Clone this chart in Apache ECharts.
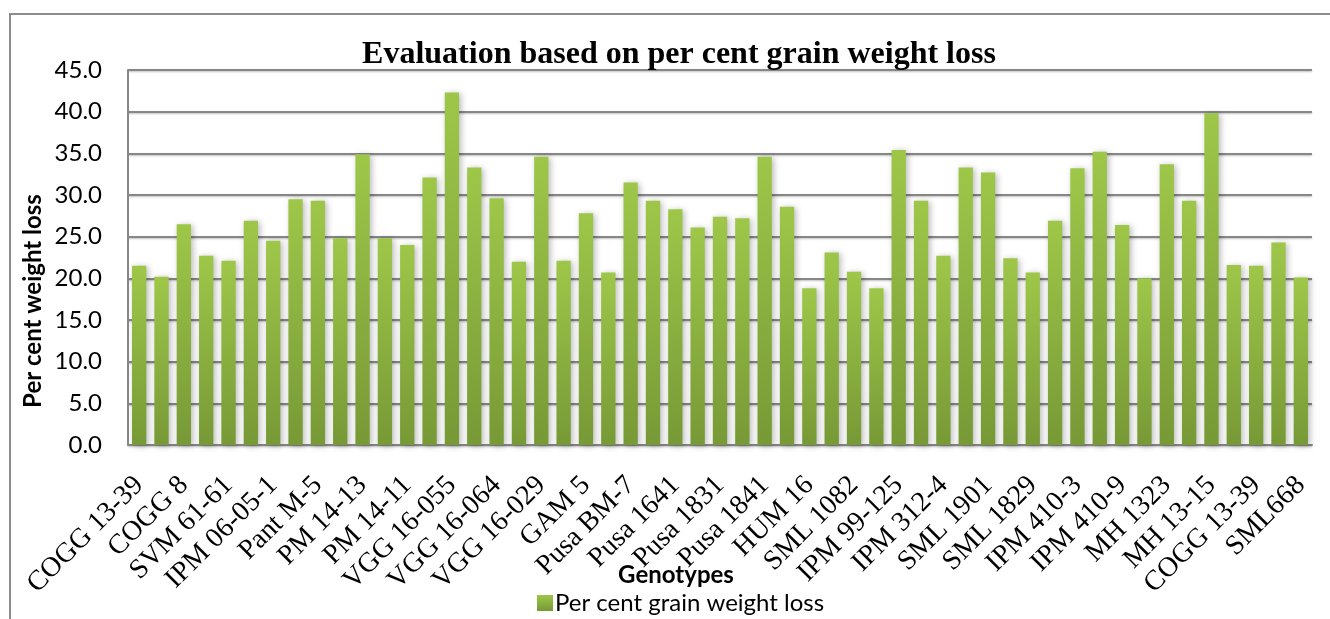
<!DOCTYPE html>
<html>
<head>
<meta charset="utf-8">
<script src="https://cdn.jsdelivr.net/npm/echarts@6/dist/echarts.min.js"></script>
<style>
html,body{margin:0;padding:0;background:#fff;}
#chart{width:1330px;height:619px;}
</style>
</head>
<body>
<div id="chart"></div>
<script>
// Labelled genotypes (every other bar carries a label in the original)
const genotypeLabels = ['COGG 13-39','COGG 8','SVM 61-61','IPM 06-05-1','Pant M-5','PM 14-13','PM 14-11','VGG 16-055','VGG 16-064','VGG 16-029','GAM 5','Pusa BM-7','Pusa 1641','Pusa 1831','Pusa 1841','HUM 16','SML 1082','IPM 99-125','IPM 312-4','SML 1901','SML 1829','IPM 410-3','IPM 410-9','MH 1323','MH 13-15','COGG 13-39','SML668'];
// Per cent grain weight loss for each of the 53 bars
const weightLoss = [21.5,20.2,26.5,22.7,22.1,26.9,24.5,29.5,29.3,24.8,34.9,24.8,24.0,32.1,42.3,33.3,29.6,22.0,34.6,22.1,27.8,20.7,31.5,29.3,28.3,26.1,27.4,27.2,34.6,28.6,18.8,23.1,20.8,18.8,35.4,29.3,22.7,33.3,32.7,22.4,20.7,26.9,33.2,35.2,26.4,20.0,33.7,29.3,39.8,21.6,21.5,24.3,20.1];
const yTicks = [0,5,10,15,20,25,30,35,40,45];
const titleText = 'Evaluation based on per cent grain weight loss';
const seriesName = 'Per cent grain weight loss';
const yName = 'Per cent weight loss';
const xName = 'Genotypes';

const categories = weightLoss.map((v, i) => (i % 2 === 0 ? genotypeLabels[i / 2] : ''));

const chart = echarts.init(document.getElementById('chart'), null, {renderer: 'canvas'});
const sans = 'Lato';
const serif = '"Liberation Serif", "Times New Roman", serif';
const gridColor = '#878787';

chart.setOption({
  animation: false,
  backgroundColor: '#fff',
  title: {
    text: titleText,
    left: 674,
    top: 34,
    textAlign: 'center',
    textStyle: {fontFamily: serif, fontWeight: 'bold', fontSize: 32, color: '#000'}
  },
  legend: {
    left: 532,
    top: 586,
    icon: 'rect',
    itemWidth: 16,
    itemHeight: 16,
    itemGap: 4,
    textStyle: {fontFamily: sans, fontSize: 24, color: '#000', padding: [0, 0, 0, -3]},
    data: [seriesName]
  },
  grid: {left: 128, right: 18, top: 70, bottom: 174, containLabel: false},
  xAxis: {
    type: 'category',
    data: categories,
    axisLine: {show: true, lineStyle: {color: gridColor, width: 2}},
    axisTick: {show: false},
    axisLabel: {
      interval: 0,
      rotate: 45,
      margin: 36,
      fontFamily: serif,
      fontSize: 28,
      color: '#000'
    }
  },
  yAxis: {
    type: 'value',
    min: yTicks[0],
    max: yTicks[yTicks.length - 1],
    interval: yTicks[1] - yTicks[0],
    axisLine: {show: true, lineStyle: {color: gridColor, width: 2}},
    axisTick: {show: false},
    axisLabel: {
      margin: 26,
      fontFamily: sans,
      fontSize: 24,
      color: '#000',
      formatter: v => v.toFixed(1)
    },
    splitLine: {
      show: true,
      lineStyle: {color: gridColor, width: 2, shadowColor: 'rgba(0,0,0,0.25)', shadowBlur: 2, shadowOffsetY: 1}
    }
  },
  series: [{
    name: seriesName,
    type: 'bar',
    data: weightLoss,
    barWidth: '64%',
    itemStyle: {
      color: new echarts.graphic.LinearGradient(0, 0, 0, 1, [
        {offset: 0, color: '#9ec749'},
        {offset: 1, color: '#779936'}
      ]),
      shadowColor: 'rgba(0,0,0,0.28)',
      shadowBlur: 6,
      shadowOffsetX: 2,
      shadowOffsetY: 1
    }
  }],
  graphic: [
    {
      type: 'rect',
      shape: {x: 10, y: 14, width: 1400, height: 700},
      style: {fill: 'none', stroke: '#8c8c8c', lineWidth: 2},
      silent: true
    },
    {
      type: 'text',
      x: 33,
      y: 301,
      rotation: Math.PI / 2,
      style: {text: yName, font: 'bold 24px Lato', fill: '#000', textAlign: 'center', textVerticalAlign: 'middle'}
    },
    {
      type: 'text',
      x: 676,
      y: 575,
      style: {text: xName, font: 'bold 24px Lato', fill: '#000', textAlign: 'center', textVerticalAlign: 'middle'}
    }
  ]
});
</script>
</body>
</html>
